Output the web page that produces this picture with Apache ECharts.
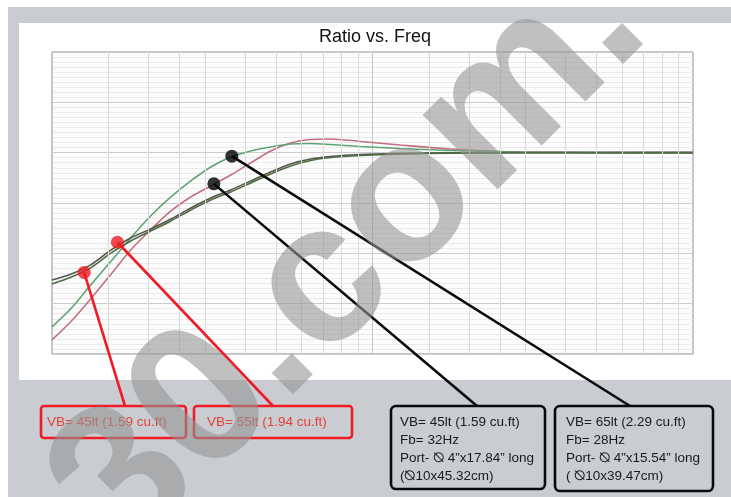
<!DOCTYPE html>
<html><head><meta charset="utf-8">
<script src="https://cdn.jsdelivr.net/npm/echarts@6/dist/echarts.min.js"></script>
<style>
html,body{margin:0;padding:0;width:731px;height:497px;overflow:hidden;background:#fff;position:relative}
#bg{position:absolute;left:8px;top:7px;right:0;bottom:0;background:#c9ccd0}
#panel{position:absolute;left:19px;top:23px;width:712px;height:357px;background:#fff}
#chart{position:absolute;left:0;top:0;width:731px;height:497px}
</style></head><body>
<div id="bg"></div><div id="panel"></div><div id="chart"></div>
<script>
// ---------- data ----------
const chartTitle = 'Ratio vs. Freq';
const freqs    = [10, 11.5, 13.2, 15.3, 17.6, 20.3, 23.5, 27.1, 31.3, 36.1, 41.7, 48.1, 55.5, 64.1, 74, 91.8, 122, 175, 289, 1000];
const vented45 = [-18.6, -16.72, -14.53, -12.05, -9.66, -7.68, -5.79, -4.4, -3.31, -2.22, -1.02, 0.17, 0.96, 1.31, 1.36, 1.11, 0.76, 0.37, 0.07, 0];
const vented65 = [-17.31, -15.43, -13.14, -10.76, -8.47, -6.29, -4.4, -2.81, -1.42, -0.43, 0.17, 0.57, 0.86, 0.91, 0.81, 0.62, 0.42, 0.22, 0.07, 0];
const sealed55 = [-12.64, -12.05, -11.15, -9.66, -8.47, -7.58, -6.59, -5.49, -4.5, -3.7, -2.81, -1.92, -1.12, -0.63, -0.38, -0.18, -0.08, -0.02, 0, 0];
const sealed45 = [-13.04, -12.35, -11.45, -9.96, -8.77, -7.78, -6.78, -5.69, -4.7, -3.9, -3.01, -2.12, -1.32, -0.77, -0.48, -0.28, -0.13, -0.05, -0.01, 0];
const gridFreqs = [15, 20, 25, 30, 40, 50, 60, 70, 80, 90, 150, 200, 250, 300, 400, 500, 600, 700, 800, 900];
const redDots   = [[12.6, -11.9], [16, -8.9]];
const blackDots = [[32, -3.1], [36.4, -0.35]];
const sealedLabels = ['VB= 45lt (1.59 cu.ft)', 'VB= 55lt (1.94 cu.ft)'];
const ventedLabels = [
  ['VB= 45lt (1.59 cu.ft)', 'Fb= 32Hz', 'Port- \u29B0 4\u201Dx17.84\u201D long', '(\u29B010x45.32cm)'],
  ['VB= 65lt (2.29 cu.ft)', 'Fb= 28Hz', 'Port- \u29B0 4\u201Dx15.54\u201D long', '( \u29B010x39.47cm)']
];
const watermark = '30.com.';

// ---------- chart ----------
const chart = echarts.init(document.getElementById('chart'));
const pairs = ys => freqs.map((f, i) => [f, ys[i]]);
const curve = (name, ys, color) => ({
  name, type: 'line', data: pairs(ys), showSymbol: false, smooth: 0.3, z: 2,
  lineStyle: { color, width: 1.6 }, emphasis: { disabled: true }
});
const RED = '#ee1c24', BLACK = '#0a0a0a';
const font = '13.5px "Liberation Sans", Arial, sans-serif';

chart.setOption({
  animation: false,
  backgroundColor: 'transparent',
  title: { text: chartTitle, left: 319, top: 28, padding: 0,
    textStyle: { fontFamily: '"Liberation Sans", Arial, sans-serif', fontSize: 18, fontWeight: 'normal', color: '#111' } },
  grid: { left: 52, top: 52, width: 641, height: 302, show: true, backgroundColor: '#fcfcfc', borderColor: '#8a8a8a', borderWidth: 1 },
  xAxis: { type: 'log', logBase: 10, min: 10, max: 1000,
    axisLine: { show: false }, axisTick: { show: false }, axisLabel: { show: false },
    splitLine: { show: true, lineStyle: { color: '#c6c6c6', width: 1 } } },
  yAxis: { type: 'value', min: -20, max: 10, interval: 5,
    axisLine: { show: false }, axisTick: { show: false }, axisLabel: { show: false },
    splitLine: { show: true, lineStyle: { color: '#cdcdcd' } },
    minorTick: { show: false, splitNumber: 10 },
    minorSplitLine: { show: true, lineStyle: { color: '#ebebeb' } } },
  series: [
    { type: 'line', data: [], z: 1, silent: true,
      markLine: { silent: true, symbol: 'none', animation: false, label: { show: false },
        lineStyle: { color: '#dadada', type: 'solid', width: 1 },
        data: gridFreqs.map(f => ({ xAxis: f })) } },
    curve('Vented 45lt Fb 32Hz', vented45, '#c27080'),
    curve('Vented 65lt Fb 28Hz', vented65, '#5fa574'),
    curve('Sealed 55lt', sealed55, '#55554d'),
    curve('Sealed 45lt', sealed45, '#4d6b44'),
    { type: 'scatter', data: redDots, symbolSize: 13, z: 6, itemStyle: { color: RED }, silent: true },
    { type: 'scatter', data: blackDots, symbolSize: 13, z: 6, itemStyle: { color: '#000' }, silent: true }
  ]
});

// ---------- annotations (leader lines from data points to label boxes) ----------
const px = p => chart.convertToPixel({ gridIndex: 0 }, p);
const els = [];
const redBoxes = [{ x: 41, y: 406, w: 145, h: 32, tx: 47, end: [125, 406] },
                  { x: 194, y: 406, w: 158, h: 32, tx: 207, end: [273, 406] }];
const blackBoxes = [{ x: 391, y: 406, w: 154, h: 83, tx: 400, end: [477, 406] },
                    { x: 555, y: 406, w: 158, h: 85, tx: 566, end: [630, 406] }];
redDots.forEach((d, i) => {
  const p = px(d), b = redBoxes[i];
  els.push({ type: 'line', z: 5, shape: { x1: p[0], y1: p[1], x2: b.end[0], y2: b.end[1] }, style: { stroke: RED, lineWidth: 2.6 } });
  els.push({ type: 'rect', z: 5, shape: { x: b.x, y: b.y, width: b.w, height: b.h, r: 3 }, style: { fill: 'none', stroke: RED, lineWidth: 2.6 } });
  els.push({ type: 'text', z: 5, style: { text: sealedLabels[i], x: b.tx, y: 422, font, fill: '#e6403a', verticalAlign: 'middle' } });
});
blackDots.forEach((d, i) => {
  const p = px(d), b = blackBoxes[i];
  els.push({ type: 'line', z: 5, shape: { x1: p[0], y1: p[1], x2: b.end[0], y2: b.end[1] }, style: { stroke: BLACK, lineWidth: 2.6 } });
  els.push({ type: 'rect', z: 5, shape: { x: b.x, y: b.y, width: b.w, height: b.h, r: 5 }, style: { fill: 'none', stroke: BLACK, lineWidth: 2.6 } });
  ventedLabels[i].forEach((t, k) => {
    els.push({ type: 'text', z: 5, style: { text: t, x: b.tx, y: 422 + k * 18, font, fill: '#1a1a1a', verticalAlign: 'middle' } });
  });
});
els.push({ type: 'text', z: 100, silent: true, x: 87, y: 522, rotation: Math.PI / 4,
  style: { text: watermark, x: 0, y: 0, font: 'bold 200px "Liberation Sans", Arial, sans-serif',
    fill: 'rgba(148,148,148,0.59)', verticalAlign: 'middle', align: 'left' } });
chart.setOption({ graphic: { elements: els } });
</script>
</body></html>
